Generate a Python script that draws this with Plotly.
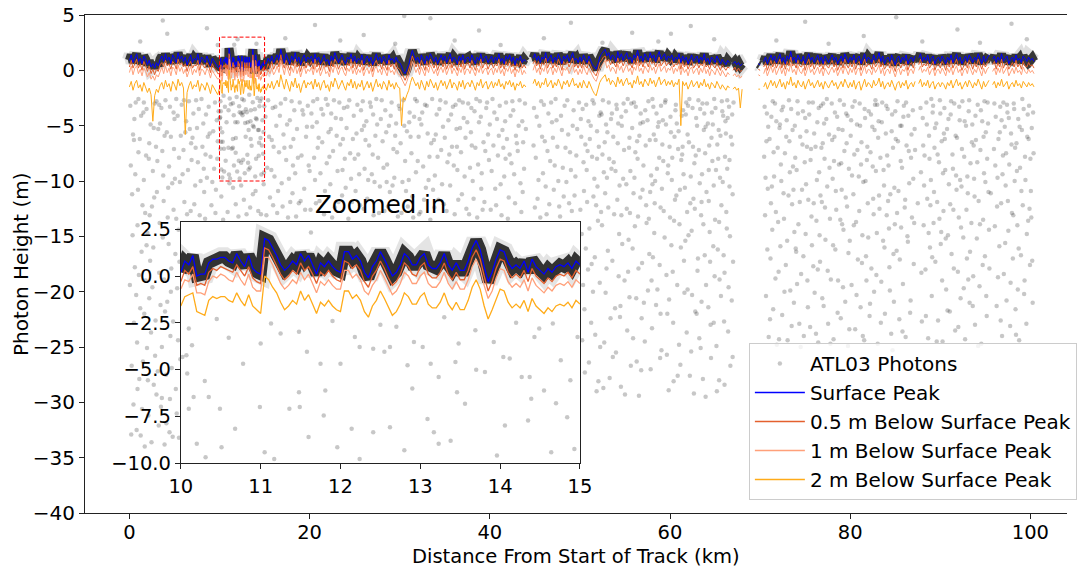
import numpy as np
import plotly.graph_objects as go

N = None
# ---------------- main track, sampled every 0.2 km (10-15 km comes from the zoomed segment) ----------------
STEP_KM = 0.2
surface_peak_m = [
    0.9,1.4,0.7,1.2,1.5,0.8,1.1,0.6,1.3,1.0, 0.5,0.9,0.3,0.6,0.2,0.7,0.4,1.0,1.3,0.8, 1.5,0.9,1.2,0.6,1.4,1.1,0.7,1.6,1.0,1.3, 0.8,1.2,0.5,1.0,1.4,0.7,1.1,0.9,1.5,0.6, 1.2,1.0,0.7,1.3,0.9,0.4,1.1,0.8,0.6,0.3,
    N,N,N,N,N,N,N,N,N,N, N,N,N,N,N,N,N,N,N,N, N,N,N,N,N,N, 0.6,1.1,0.8,1.3,0.7,1.0,1.4,0.9,1.9,1.2, 0.7,1.5,1.0,0.6,1.3,0.9,1.6,0.8,1.2,0.5, 1.1,1.4,0.8,1.2,
    1.0,1.3,0.7,1.5,0.9,1.2,0.6,1.1,1.4,0.8, 1.0,0.5,1.3,0.9,1.6,1.2,0.7,1.1,1.4,0.9, 0.6,1.2,1.0,1.5,0.8,1.3,0.7,1.1,0.9,1.4, 0.6,1.0,1.3,0.8,1.2,0.5,1.1,1.5,0.9,1.2, 0.7,1.3,1.0,0.6,1.4,0.9,1.1,0.7,1.2,0.8,
    0.7,0.4,-0.1,-0.3,0.1,0.5,1.2,1.8,1.3,0.9, 1.2,0.7,1.4,1.0,0.6,1.3,0.9,1.5,1.1,0.8, 1.2,0.6,1.0,1.4,0.9,1.3,0.7,1.1,1.5,0.8, 1.2,1.0,0.6,1.3,0.9,1.4,0.7,1.1,1.2,0.8, 1.4,1.0,0.6,1.2,0.9,1.5,0.8,1.1,1.3,0.7,
    1.0,1.3,0.7,1.2,0.9,1.5,0.8,1.1,0.6,1.3, 1.0,1.4,0.8,1.2,0.5,1.1,0.9,1.3,0.7,1.0, 0.8,N,N,N,1.1,1.5,0.9,1.3,0.7,1.2, 1.0,1.6,0.8,1.1,1.4,0.7,1.2,0.9,1.5,1.1, 0.6,1.3,1.0,1.4,0.8,1.2,1.6,0.9,1.1,0.7,
    1.2,0.8,1.4,1.0,0.7,1.3,0.9,0.5,0.3,0.1, 0.6,1.2,1.5,1.7,1.9,1.3,1.6,1.0,1.4,1.2, 0.8,1.7,1.1,1.5,0.9,1.3,1.6,1.0,1.2,0.7, 1.4,1.1,1.8,1.0,1.3,0.8,1.5,1.2,0.9,1.6, 1.1,1.4,0.8,1.3,1.7,1.0,1.2,1.5,0.9,1.3,
    1.1,1.4,0.8,1.2,1.0,1.5,0.7,1.3,0.9,1.2, 0.6,1.1,1.4,0.8,1.0,1.3,0.7,1.2,0.9,1.5, 0.8,1.1,0.6,1.2,1.0,0.7,1.3,0.9,0.6,1.0, 0.8,0.5,0.9,0.7,N,0.6,0.8,0.5,0.7,0.4, 0.6,N,N,N,N,N,N,N,N,0.6,
    0.5,N,0.8,1.2,0.6,1.0,1.4,0.9,1.3,0.7, 1.1,1.5,0.8,1.2,0.6,1.3,1.0,1.7,0.9,1.2, 0.7,1.4,1.0,0.8,1.3,0.6,1.1,1.5,0.9,1.2, 0.7,1.0,1.4,0.8,1.2,0.6,1.3,1.0,0.7,1.1, 1.4,0.9,1.2,0.6,1.0,1.3,0.8,1.5,1.1,0.7,
    1.2,0.9,1.4,0.7,1.1,1.3,0.6,1.0,1.5,0.8, 1.2,1.0,0.7,1.4,0.9,1.1,1.6,0.8,1.3,0.6, 1.0,1.2,0.8,1.4,0.9,0.5,1.1,1.3,0.7,1.2, 0.9,1.4,0.6,1.0,1.2,0.8,1.3,N,1.1,1.5, 0.8,1.2,0.9,1.4,0.7,1.1,1.3,0.6,1.0,1.2,
    0.8,1.3,1.0,0.6,1.2,0.9,1.4,0.7,1.1,1.5, 0.9,1.2,0.6,1.0,1.3,0.8,1.4,1.1,0.7,1.2, 0.9,1.5,1.0,0.6,1.3,0.8,1.1,1.4,N,1.0, 1.3,0.7,1.2,0.9,1.5,0.8,1.1,1.3,0.6,1.0, 1.2,0.8,1.4,0.9,1.1,0.7,1.3,1.0,0.8,1.2,
    0.9,1.1,0.8,
]
below_half_m = [
    0.3,0.9,0.2,0.6,1.0,0.2,0.6,0.0,0.8,0.4, -0.1,0.4,-0.3,0.1,-0.4,0.1,-0.1,0.5,0.7,0.3, 0.9,0.4,0.6,0.1,0.8,0.6,0.1,1.0,0.5,0.7, 0.3,0.6,-0.1,0.5,0.8,0.2,0.5,0.4,0.9,0.0, 0.7,0.4,0.2,0.7,0.4,-0.2,0.6,0.2,0.1,-0.3,
    N,N,N,N,N,N,N,N,N,N, N,N,N,N,N,N,N,N,N,N, N,N,N,N,N,N, 0.0,0.6,0.2,0.8,0.1,0.5,0.9,0.3,1.4,0.6, 0.2,0.9,0.5,0.0,0.7,0.4,1.0,0.3,0.6,-0.1, 0.6,0.8,0.2,0.7,
    0.4,0.8,0.1,1.0,0.3,0.7,0.0,0.6,0.8,0.3, 0.5,-0.1,0.8,0.3,1.0,0.7,0.1,0.5,0.9,0.4, 0.0,0.7,0.4,1.0,0.2,0.8,0.1,0.6,0.3,0.9, 0.0,0.5,0.7,0.3,0.6,-0.1,0.6,0.9,0.4,0.6, 0.1,0.8,0.4,0.0,0.9,0.3,0.6,0.1,0.7,0.2,
    0.1,-0.2,-0.6,-0.9,-0.5,0.0,0.6,1.3,0.8,0.3, 0.7,0.1,0.9,0.4,0.0,0.8,0.3,1.0,0.6,0.2, 0.7,0.0,0.5,0.9,0.3,0.8,0.1,0.6,1.0,0.2, 0.7,0.4,0.0,0.8,0.3,0.9,0.1,0.6,0.7,0.2, 0.9,0.4,0.0,0.6,0.4,1.0,0.2,0.6,0.7,0.1,
    0.5,0.7,0.2,0.6,0.4,1.0,0.2,0.6,0.1,0.8, 0.4,0.9,0.3,0.6,0.0,0.6,0.3,0.8,0.2,0.5, 0.2,N,N,N,0.6,0.9,0.4,0.8,0.1,0.7, 0.5,1.1,0.2,0.6,0.8,0.2,0.7,0.3,1.0,0.6, 0.0,0.8,0.5,0.8,0.3,0.7,1.1,0.3,0.6,0.2,
    0.7,0.2,0.9,0.4,0.2,0.8,0.3,0.0,-0.3,-0.5, 0.0,0.7,0.9,1.2,1.3,0.8,1.0,0.5,0.9,0.6, 0.3,1.1,0.6,0.9,0.4,0.8,1.0,0.5,0.6,0.2, 0.9,0.5,1.3,0.4,0.8,0.3,0.9,0.7,0.3,1.1, 0.6,0.8,0.3,0.7,1.2,0.4,0.7,0.9,0.4,0.7,
    0.6,0.9,0.3,0.6,0.5,1.0,0.1,0.8,0.3,0.7, 0.1,0.5,0.9,0.2,0.5,0.7,0.2,0.6,0.4,0.9, 0.3,0.5,0.1,0.7,0.4,0.2,0.7,0.4,0.0,0.5, 0.2,0.0,0.3,0.2,N,0.0,0.3,-0.1,0.2,-0.1, 0.0,N,N,N,N,N,N,N,N,0.1,
    0.0,N,0.3,0.7,0.0,0.5,0.9,0.3,0.8,0.2, 0.6,1.0,0.2,0.7,0.1,0.8,0.4,1.2,0.4,0.6, 0.2,0.9,0.4,0.3,0.8,0.0,0.6,1.0,0.3,0.7, 0.1,0.5,0.9,0.3,0.6,0.1,0.8,0.4,0.2,0.6, 0.9,0.3,0.7,0.0,0.5,0.8,0.2,1.0,0.5,0.2,
    0.7,0.3,0.9,0.1,0.6,0.8,0.0,0.5,1.0,0.3, 0.6,0.5,0.1,0.9,0.3,0.6,1.0,0.3,0.7,0.1, 0.4,0.7,0.2,0.9,0.4,-0.1,0.6,0.7,0.2,0.6, 0.4,0.8,0.0,0.5,0.7,0.2,0.8,N,0.5,1.0, 0.3,0.6,0.4,0.8,0.2,0.5,0.8,0.0,0.5,0.6,
    0.2,0.8,0.5,0.0,0.7,0.3,0.9,0.2,0.6,1.0, 0.4,0.6,0.0,0.5,0.8,0.2,0.9,0.6,0.1,0.7, 0.3,1.0,0.5,0.1,0.7,0.3,0.6,0.9,N,0.5, 0.8,0.1,0.7,0.3,1.0,0.2,0.6,0.7,0.1,0.4, 0.7,0.3,0.9,0.3,0.6,0.1,0.8,0.4,0.3,0.7,
    0.4,0.5,0.2,
]
below_one_m = [
    -0.2,0.4,-0.4,0.2,0.4,-0.3,0.1,-0.5,0.2,-0.1, -0.6,-0.2,-0.8,-0.5,-0.9,-0.4,-0.6,-0.1,0.3,-0.3, 0.4,-0.2,0.2,-0.5,0.3,0.1,-0.4,0.5,-0.1,0.3, -0.3,0.1,-0.6,-0.1,0.4,-0.4,0.1,-0.2,0.4,-0.5, 0.1,0.0,-0.4,0.2,-0.1,-0.7,0.0,-0.3,-0.5,-0.8,
    N,N,N,N,N,N,N,N,N,N, N,N,N,N,N,N,N,N,N,N, N,N,N,N,N,N, -0.5,0.1,-0.3,0.2,-0.4,-0.1,0.4,-0.2,0.9,0.1, -0.4,0.5,-0.1,-0.5,0.3,-0.2,0.5,-0.3,0.2,-0.6, 0.0,0.4,-0.3,0.1,
    -0.1,0.3,-0.4,0.4,-0.2,0.2,-0.5,0.0,0.4,-0.3, -0.1,-0.6,0.3,-0.2,0.5,0.1,-0.4,0.1,0.3,-0.2, -0.5,0.2,-0.1,0.4,-0.3,0.2,-0.4,0.1,-0.2,0.3, -0.5,0.0,0.2,-0.3,0.2,-0.6,0.1,0.4,-0.2,0.1, -0.4,0.3,-0.1,-0.5,0.3,-0.2,0.0,-0.4,0.2,-0.3,
    -0.4,-0.7,-1.1,-1.4,-1.0,-0.5,0.1,0.8,0.3,-0.2, 0.2,-0.4,0.3,-0.1,-0.5,0.3,-0.2,0.5,0.0,-0.3, 0.1,-0.5,0.0,0.3,-0.2,0.3,-0.4,0.0,0.5,-0.3, 0.2,-0.1,-0.5,0.2,-0.2,0.4,-0.4,0.1,0.1,-0.3, 0.3,-0.1,-0.5,0.2,-0.2,0.4,-0.3,0.1,0.2,-0.4,
    0.0,0.2,-0.4,0.2,-0.2,0.4,-0.3,0.1,-0.5,0.2, -0.1,0.4,-0.3,0.1,-0.6,0.1,-0.2,0.3,-0.4,0.0, -0.3,N,N,N,0.0,0.5,-0.2,0.2,-0.4,0.2, -0.1,0.5,-0.3,0.1,0.3,-0.4,0.2,-0.2,0.4,0.0, -0.5,0.2,0.0,0.3,-0.3,0.1,0.5,-0.2,0.1,-0.4,
    0.1,-0.3,0.4,-0.1,-0.4,0.2,-0.2,-0.5,-0.8,-1.0, -0.5,0.1,0.4,0.6,0.9,0.2,0.5,-0.1,0.3,0.1, -0.3,0.6,0.0,0.4,-0.2,0.2,0.5,-0.1,0.2,-0.4, 0.3,0.0,0.7,-0.1,0.2,-0.3,0.4,0.1,-0.2,0.5, 0.0,0.3,-0.3,0.2,0.6,-0.1,0.1,0.4,-0.2,0.2,
    0.0,0.4,-0.3,0.2,-0.1,0.4,-0.4,0.3,-0.2,0.1, -0.5,0.1,0.3,-0.3,0.0,0.2,-0.4,0.2,-0.2,0.4, -0.3,0.1,-0.5,0.1,-0.1,-0.4,0.2,-0.2,-0.5,0.0, -0.3,-0.6,-0.2,-0.4,N,-0.5,-0.3,-0.6,-0.4,-0.7, -0.5,N,N,N,N,N,N,N,N,-0.4,
    -0.5,N,-0.3,0.2,-0.5,-0.1,0.4,-0.2,0.3,-0.4, 0.1,0.4,-0.3,0.2,-0.5,0.2,-0.1,0.6,-0.2,0.1, -0.4,0.4,-0.1,-0.3,0.2,-0.5,0.0,0.5,-0.2,0.1, -0.4,-0.1,0.3,-0.3,0.2,-0.5,0.2,-0.1,-0.4,0.0, 0.3,-0.2,0.2,-0.5,-0.1,0.3,-0.3,0.4,0.0,-0.4,
    0.2,-0.2,0.3,-0.4,0.1,0.2,-0.5,0.0,0.4,-0.3, 0.1,0.0,-0.4,0.3,-0.2,0.1,0.5,-0.3,0.2,-0.5, 0.0,0.1,-0.3,0.4,-0.2,-0.6,0.0,0.2,-0.4,0.1, -0.1,0.3,-0.5,0.0,0.1,-0.3,0.3,N,0.0,0.4, -0.2,0.1,-0.1,0.3,-0.4,0.0,0.2,-0.5,0.0,0.1,
    -0.3,0.2,-0.1,-0.5,0.2,-0.2,0.3,-0.4,0.1,0.4, -0.2,0.1,-0.5,0.0,0.2,-0.3,0.4,0.0,-0.4,0.1, -0.2,0.4,0.0,-0.5,0.2,-0.3,0.1,0.3,N,-0.1, 0.2,-0.4,0.2,-0.2,0.4,-0.3,0.0,0.3,-0.5,-0.1, 0.2,-0.3,0.3,-0.2,0.0,-0.4,0.3,-0.1,-0.3,0.1,
    -0.2,0.0,-0.3,
]
below_two_m = [
    -1.5,-1.0,-1.8,-1.2,-0.9,-1.6,-1.3,-1.9,-1.1,-1.5, -2.0,-1.6,-2.2,-4.6,-2.3,-1.7,-2.0,-1.4,-1.1,-1.7, -0.9,-1.5,-1.2,-1.9,-1.0,-1.3,-1.8,-0.8,-1.4,-1.1, -1.6,-5.8,-2.0,-1.4,-1.0,-1.7,-1.3,-1.5,-0.9,-1.9, -1.2,-1.4,-1.8,-1.1,-1.5,-2.1,-1.3,-1.6,-1.9,-2.2,
    N,N,N,N,N,N,N,N,N,N, N,N,N,N,N,N,N,N,N,N, N,N,N,N,N,N, -1.8,-1.2,-1.6,-1.0,-1.7,-1.3,-0.9,-1.5,-0.4,-1.1, -1.7,-0.8,-1.3,-1.9,-1.0,-1.5,-0.7,-1.6,-1.2,-2.0, -1.3,-0.9,-1.6,-1.1,
    -1.3,-1.0,-1.7,-0.8,-1.5,-1.1,-1.8,-1.2,-0.9,-1.6, -1.3,-1.9,-1.0,-1.5,-0.7,-1.1,-1.7,-1.3,-0.9,-1.4, -1.8,-1.1,-1.4,-0.8,-1.6,-1.0,-1.7,-1.2,-1.5,-0.9, -1.8,-1.4,-1.0,-1.6,-1.1,-1.9,-1.3,-0.8,-1.5,-1.2, -1.7,-1.0,-1.3,-1.8,-0.9,-1.5,-1.2,-1.7,-1.1,-1.5,
    -1.6,-5.0,-2.4,-2.7,-2.2,-1.8,-1.1,-0.6,-1.0,-1.4, -1.1,-1.7,-0.9,-1.3,-1.8,-1.0,-1.5,-0.8,-1.2,-1.6, -1.1,-1.8,-1.3,-0.9,-1.4,-1.0,-1.7,-1.2,-0.8,-1.6, -1.1,-1.3,-1.8,-1.0,-1.5,-0.9,-1.7,-1.2,-1.1,-1.5, -0.9,-1.3,-1.8,-1.1,-1.4,-0.8,-1.6,-1.2,-1.0,-1.7,
    -1.3,-1.0,-1.6,-1.1,-1.4,-0.8,-1.5,-1.2,-1.7,-1.0, -1.3,-0.9,-1.5,-1.1,-1.8,-1.2,-1.4,-1.0,-1.6,-1.3, -1.5,N,N,N,-1.2,-0.8,-1.4,-1.0,-1.6,-1.1, -1.3,-0.7,-1.5,-1.2,-0.9,-1.6,-1.1,-1.4,-0.8,-1.2, -1.7,-1.0,-1.3,-0.9,-1.5,-1.1,-0.7,-1.4,-1.2,-1.6,
    -1.1,-1.6,-0.9,-1.3,-1.6,-1.0,-1.5,-1.8,-2.1,-2.3, -1.7,-1.1,-0.8,-0.6,-0.4,-1.0,-0.7,-1.3,-0.9,-1.1, -1.5,-0.6,-1.2,-0.8,-1.4,-1.0,-0.7,-1.3,-1.1,-1.6, -0.9,-1.2,-0.5,-1.3,-1.0,-1.5,-0.8,-1.1,-1.4,-0.7, -1.2,-0.9,-1.5,-1.0,-0.6,-1.3,-1.1,-0.8,-1.4,-1.0,
    -1.3,-0.9,-1.5,-1.1,-1.3,-0.8,-5.0,-1.0,-1.4,-1.1, -1.7,-1.2,-0.9,-1.5,-1.3,-1.0,-1.6,-1.1,-1.4,-0.8, -1.5,-1.2,-1.7,-1.1,-1.3,-1.6,-1.0,-1.4,-1.7,-1.3, -1.5,-1.8,-1.4,-1.6,N,-1.7,-1.5,-1.8,-1.6,-3.4, -1.7,N,N,N,N,N,N,N,N,-1.7,
    -1.7,N,-1.5,-1.1,-1.7,-1.3,-0.9,-1.4,-1.0,-1.6, -1.2,-0.8,-1.5,-1.1,-1.7,-1.0,-1.3,-0.6,-1.4,-1.1, -1.6,-0.9,-1.3,-1.5,-1.0,-1.7,-1.2,-0.8,-1.4,-1.1, -1.6,-1.3,-0.9,-1.5,-1.1,-1.7,-1.0,-1.3,-1.6,-1.2, -0.9,-1.4,-1.1,-1.7,-1.3,-1.0,-1.5,-0.8,-1.2,-1.6,
    -1.1,-1.5,-0.9,-1.7,-1.2,-1.0,-1.8,-1.3,-0.8,-1.5, -1.1,-1.3,-1.6,-0.9,-1.4,-1.2,-0.7,-1.5,-1.0,-1.7, -1.3,-1.1,-1.5,-0.9,-1.4,-1.8,-1.2,-1.0,-1.6,-1.1, -1.4,-0.9,-1.7,-1.3,-1.1,-1.5,-1.0,N,-1.2,-0.8, -1.5,-1.1,-1.4,-0.9,-1.6,-1.2,-1.0,-1.7,-1.3,-1.1,
    -1.5,-1.1,-1.3,-1.7,-1.1,-1.4,-0.9,-1.6,-1.2,-0.8, -1.4,-1.1,-1.7,-1.3,-1.0,-1.5,-0.9,-1.2,-1.6,-1.1, -1.4,-0.8,-1.3,-1.7,-1.0,-1.5,-1.2,-0.9,N,-1.3, -1.0,-1.6,-1.1,-1.4,-0.8,-1.5,-1.2,-1.0,-1.7,-1.3, -1.1,-1.5,-0.9,-1.4,-1.2,-1.6,-1.0,-1.3,-1.5,-1.1,
    -1.4,-1.2,-1.5,
]

# ---------------- zoomed segment 10-15 km, sampled every 0.05 km ----------------
INSET_START_KM = 10.0
INSET_STEP_KM = 0.05
inset_surface_m = [
    0.2,0.8,0.6,1.1,0.0,0.1,0.1,0.7,0.9,0.9, 1.0,1.0,0.8,0.7,1.2,0.8,0.5,1.1,0.4,0.2,
    0.1,2.0,1.9,1.5,1.1,0.6,0.3,0.5,0.8,0.6, 1.2,0.8,1.1,0.6,0.1,0.7,0.5,0.8,0.5,0.3,
    0.2,1.3,1.3,0.9,1.1,0.8,0.2,-0.1,0.5,0.8, 1.3,0.9,0.4,0.0,0.2,0.6,1.2,1.0,0.6,0.6,
    1.0,1.2,0.6,0.4,0.4,0.7,1.2,0.6,0.3,0.7, 0.3,0.3,0.8,1.5,1.9,1.4,0.5,-0.3,0.2,0.9,
    1.4,1.3,0.7,0.4,0.6,0.4,0.8,0.2,0.9,0.5, 0.3,0.1,0.4,0.2,0.5,0.6,0.5,0.7,0.4,0.8,
    0.6,
]
inset_half_m = [
    -0.3,0.3,0.1,0.5,-0.5,-0.4,-0.5,0.2,0.4,0.3, 0.5,0.4,0.3,0.2,0.6,0.3,0.0,0.5,-0.1,-0.3,
    -0.4,1.5,1.4,1.0,0.5,0.1,-0.2,0.0,0.3,0.1, 0.7,0.3,0.5,0.1,-0.4,0.2,0.0,0.3,0.0,-0.2,
    -0.3,0.8,0.7,0.4,0.6,0.3,-0.3,-0.6,0.0,0.3, 0.8,0.4,-0.1,-0.5,-0.3,0.1,0.7,0.5,0.1,0.0,
    0.5,0.7,0.1,-0.1,-0.1,0.2,0.7,0.1,-0.2,0.2, -0.2,-0.2,0.3,1.0,1.4,0.9,0.0,-0.8,-0.3,0.4,
    0.9,0.8,0.2,-0.1,0.1,-0.1,0.3,-0.3,0.4,0.0, -0.2,-0.4,-0.1,-0.3,0.0,0.1,0.0,0.2,-0.1,0.3,
    0.1,
]
inset_one_m = [
    -0.7,-0.2,-0.3,0.1,-0.9,-0.9,-1.0,-0.3,0.0,-0.1, 0.1,0.0,-0.2,-0.3,0.2,-0.2,-0.5,0.1,-0.6,-0.8,
    -0.8,1.0,1.0,0.6,0.1,-0.4,-0.7,-0.5,-0.2,-0.4, 0.2,-0.2,0.1,-0.4,-0.9,-0.3,-0.5,-0.2,-0.5,-0.7,
    -0.7,0.3,0.3,-0.1,0.1,-0.2,-0.8,-1.0,-0.5,-0.2, 0.3,-0.1,-0.6,-1.0,-0.8,-0.4,0.2,0.0,-0.4,-0.4,
    0.0,0.2,-0.4,-0.6,-0.6,-0.3,0.2,-0.4,-0.7,-0.3, -0.7,-0.7,-0.2,0.5,0.9,0.4,-0.5,-1.2,-0.8,-0.1,
    0.4,0.3,-0.3,-0.6,-0.4,-0.6,-0.2,-0.8,-0.1,-0.5, -0.7,-0.9,-0.6,-0.8,-0.5,-0.4,-0.5,-0.3,-0.6,-0.2,
    -0.4,
]
inset_two_m = [
    -1.6,-1.1,-1.0,-0.9,-1.9,-2.0,-2.1,-1.3,-1.1,-1.2, -1.1,-1.1,-1.3,-1.4,-0.9,-1.3,-1.6,-1.0,-1.6,-1.8,
    -2.0,0.0,-0.2,-0.6,-0.9,-1.4,-1.8,-1.6,-1.3,-1.5, -0.8,-1.3,-1.0,-1.5,-2.0,-1.4,-1.6,-1.3,-1.6,-1.8,
    -1.9,-0.8,-0.8,-1.2,-1.0,-1.3,-1.9,-2.2,-1.6,-1.3, -0.8,-1.2,-1.7,-2.1,-1.9,-1.5,-0.9,-1.1,-1.5,-1.5,
    -1.1,-0.9,-1.5,-1.7,-1.7,-1.4,-0.9,-1.5,-1.8,-1.4, -1.8,-1.8,-1.3,-0.6,-0.2,-0.7,-1.6,-2.3,-1.8,-1.2,
    -0.7,-0.8,-1.4,-1.7,-1.5,-1.7,-1.3,-1.9,-1.2,-1.6, -1.8,-2.0,-1.7,-1.9,-1.6,-1.5,-1.6,-1.4,-1.7,-1.3,
    -1.5,
]

# ---------------- background photons (km, height m) ----------------
photons_start = [
    (0.1,-3.2),(0.4,-5.8),(0.7,-2.9),(1.0,-7.4),(1.3,-4.1),(1.6,-9.9),(1.9,-3.5),(2.2,-6.6),(2.5,-12.3),(2.8,-3.0),
    (3.1,-8.2),(3.4,-4.8),(3.7,-15.1),(4.0,-2.7),(4.3,-10.6),(4.6,-6.0),(4.9,-3.8),(5.2,-13.4),(5.5,-7.9),(0.3,-11.2),
    (0.6,-17.8),(0.9,-14.0),(1.2,-21.5),(1.5,-26.3),(1.8,-19.0),(2.1,-31.2),(2.4,-23.7),(2.7,-28.4),(3.0,-29.3),(3.3,-18.3),
    (3.6,-25.0),(3.9,-33.8),(4.2,-20.9),(4.5,-29.7),(4.8,-33.1),(5.1,-16.6),(5.4,-24.4),(0.2,-32.9),(0.8,-32.5),(1.4,-30.6),
    (2.0,-14.7),(2.6,-9.1),(3.2,-5.3),(3.8,-11.8),(4.4,-8.7),(5.0,-4.4),(5.6,-10.1),(1.1,-27.9),(1.7,-34.0),(2.3,-17.2),
    (2.9,-22.6),(3.5,-30.4),(4.1,-31.9),(4.7,-26.9),(5.3,-19.7),(0.5,-22.8),(1.0,-2.6),(3.0,-2.8),(4.5,-3.3),(5.7,-5.9),
    (0.15,-8.6),(0.35,-14.9),(0.55,-4.4),(0.75,-20.3),(0.95,-10.8),(1.15,-6.2),(1.35,-16.4),(1.55,-3.8),(1.75,-12.9),(1.95,-25.1),
    (2.15,-8.0),(2.35,-4.9),(2.55,-19.6),(2.75,-11.5),(2.95,-6.9),(3.15,-27.2),(3.35,-13.8),(3.55,-3.4),(3.75,-9.5),(3.95,-21.8),
    (4.15,-5.6),(4.35,-15.7),(4.55,-24.0),(4.75,-10.2),(4.95,-7.1),(5.15,-28.8),(5.35,-4.1),(5.55,-17.3),(0.25,-26.7),(0.45,-30.2),
    (0.65,-9.4),(0.85,-24.6),(1.05,-18.5),(1.25,-33.0),(1.45,-12.2),(1.65,-22.0),(1.85,-7.7),(2.05,-28.0),(2.25,-13.1),(2.45,-33.6),
    (2.65,-16.0),(2.85,-25.8),(3.05,-11.0),(3.25,-32.1),(3.45,-21.2),(3.65,-7.3),(3.85,-18.9),(4.05,-27.5),(4.25,-13.3),(4.45,-32.7),
    (4.65,-17.9),(4.85,-22.7),(5.05,-9.8),(5.25,-31.0),(5.45,-14.4),(5.65,-26.1),(0.05,-19.4),(1.9,-15.8),(3.3,-3.1),(4.9,-12.6),
    (0.5,-6.3),(1.6,-2.9),(2.7,-5.2),(3.9,-5.9),(5.2,-2.6),(0.9,-28.8),(2.2,-20.6),(3.6,-29.6),(4.6,-20.0),(5.5,-33.2),
]
photons_left = [
    (5.8,-3.1),(6.0,-7.2),(6.1,-11.9),(6.3,-4.6),(6.5,-9.0),(6.6,-2.8),(6.8,-12.7),(7.0,-6.1),(7.1,-3.9),(7.3,-10.4),
    (7.5,-5.2),(7.6,-8.3),(7.8,-13.1),(8.0,-2.6),(8.1,-6.9),(8.3,-11.0),(8.5,-4.0),(8.6,-9.7),(8.8,-3.3),(9.0,-7.8),
    (9.1,-12.2),(9.3,-5.5),(9.5,-2.9),(9.6,-10.8),(9.8,-6.4),(9.9,-3.7),(6.2,-5.6),(7.4,-2.7),(8.7,-6.0),(9.4,-8.9),
    (5.9,-9.4),(6.4,-13.0),(6.7,-5.3),(6.9,-8.1),(7.2,-12.1),(7.7,-3.5),(7.9,-10.0),(8.2,-4.8),(8.4,-13.4),(8.9,-5.7),
    (9.2,-10.1),(9.7,-4.5),(6.05,-2.7),(7.35,-7.0),(8.45,-7.6),(9.55,-12.9),(6.85,-6.6),(8.25,-8.9),(9.75,-8.0),
    (10.2,-11.4),(10.9,-12.8),(11.5,-10.6),(12.1,-13.2),(12.7,-11.7),(13.4,-12.4),(14.0,-10.9),(14.6,-13.0),
    (10.4,-13.5),(11.1,-10.2),(11.8,-12.1),(12.4,-10.4),(13.0,-13.0),(13.7,-11.2),(14.3,-12.7),(14.9,-10.3),
    (15.1,-4.2),(15.3,-8.8),(15.4,-2.7),(15.6,-11.5),(15.8,-6.3),(15.9,-3.4),(16.1,-9.6),(16.3,-5.0),(16.4,-12.9),(16.6,-7.4),
    (16.8,-3.0),(16.9,-10.2),(17.1,-5.8),(17.3,-2.6),(17.4,-8.1),(17.6,-13.3),(17.8,-4.5),(17.9,-6.9),(18.1,-11.1),(18.3,-3.6),
    (18.4,-9.3),(18.6,-5.3),(18.8,-12.0),(18.9,-2.9),(19.1,-7.7),(19.3,-4.0),(19.4,-10.7),(19.6,-6.0),(19.8,-3.2),(19.9,-8.6),
    (20.1,-12.6),(20.3,-5.1),(20.4,-2.8),(20.6,-9.9),(20.8,-4.7),(20.9,-7.0),(21.1,-11.8),(21.3,-3.5),(21.4,-6.5),(21.6,-13.0),
    (21.8,-2.6),(21.9,-8.4),(22.1,-5.6),(22.3,-10.3),(22.4,-3.9),(22.6,-7.3),(22.8,-12.4),(22.9,-4.3),(23.1,-9.1),(23.3,-2.9),
    (23.4,-6.7),(23.6,-11.3),(23.8,-3.4),(23.9,-8.0),(24.1,-5.2),(24.3,-13.4),(24.4,-2.7),(24.6,-9.8),(24.8,-6.2),(24.9,-4.1),
    (25.1,-10.9),(25.3,-3.1),(25.4,-7.6),(25.6,-12.2),(25.8,-5.4),(25.9,-2.8),(26.1,-8.9),(26.3,-4.6),(26.4,-11.6),(26.6,-6.8),
    (26.8,-3.3),(26.9,-9.4),(27.1,-13.1),(27.3,-5.9),(27.4,-2.6),(27.6,-7.9),(27.8,-10.5),(27.9,-4.4),(28.1,-6.4),(28.3,-12.7),
    (28.4,-3.6),(28.6,-8.5),(28.8,-5.0),(28.9,-11.0),(29.1,-2.9),(29.3,-7.1),(29.4,-9.7),(29.6,-4.8),(29.8,-13.2),(29.9,-3.2),
    (30.1,-6.6),(30.3,-10.1),(30.4,-2.7),(30.6,-8.2),(30.8,-5.5),(30.9,-12.3),(31.1,-3.8),(31.3,-7.5),(31.4,-11.4),(31.6,-4.2),
    (31.8,-9.2),(31.9,-2.8),(32.1,-6.0),(32.3,-12.8),(32.4,-4.9),(32.6,-8.7),(32.8,-3.1),(32.9,-10.6),(33.1,-5.7),(33.3,-7.8),
    (33.4,-13.5),(33.6,-2.6),(33.8,-6.3),(33.9,-9.5),(34.1,-4.0),(34.3,-11.7),(34.4,-3.5),(34.6,-7.2),(34.8,-5.1),(34.9,-12.1),
    (35.1,-2.9),(35.3,-8.3),(35.4,-4.5),(35.6,-10.4),(35.8,-6.9),(35.9,-3.3),(36.1,-13.0),(36.3,-5.3),(36.4,-9.0),(36.6,-2.7),
    (36.8,-7.4),(36.9,-11.2),(37.1,-4.3),(37.3,-6.1),(37.4,-12.5),(37.6,-3.0),(37.8,-8.8),(37.9,-5.6),(38.1,-10.0),(38.3,-3.7),
    (38.4,-7.0),(38.6,-13.3),(38.8,-4.7),(38.9,-2.8),(39.1,-9.3),(39.3,-6.5),(39.4,-11.9),(39.6,-3.4),(39.8,-5.8),(39.9,-8.1),
    (40.1,-12.6),(40.3,-2.6),(40.4,-6.8),(40.6,-10.7),(40.8,-4.4),(40.9,-7.7),(41.1,-3.2),(41.3,-13.1),(41.4,-5.4),(41.6,-9.6),
    (41.8,-2.9),(41.9,-6.2),(42.1,-11.5),(42.3,-4.1),(42.4,-8.4),(42.6,-3.6),(42.8,-12.0),(42.9,-5.9),(43.1,-7.3),(43.3,-2.7),
    (43.4,-10.2),(43.6,-4.6),(43.8,-8.9),(43.9,-3.0),(16.0,-6.9),(19.0,-11.8),(22.0,-3.1),(25.0,-8.0),(28.0,-2.7),(31.0,-9.9),
    (34.0,-5.8),(37.0,-2.9),(40.0,-4.9),(43.0,-6.6),(17.5,-4.9),(20.5,-7.9),(23.5,-4.4),(26.5,-9.9),(29.5,-5.9),(32.5,-3.8),
    (35.5,-7.6),(38.5,-2.6),(41.5,-7.0),(44.0,-5.3),
    (15.2,-13.1),(15.5,-6.0),(15.75,-9.0),(16.2,-3.3),(16.5,-10.9),(16.7,-4.1),(17.0,-12.3),(17.2,-7.0),(17.7,-9.8),(18.0,-2.8),
    (18.2,-6.2),(18.5,-13.2),(18.7,-7.9),(19.2,-3.6),(19.5,-12.6),(19.7,-5.1),(20.0,-9.1),(20.2,-3.9),(20.7,-12.0),(21.0,-6.1),
    (21.2,-9.3),(21.5,-4.0),(21.7,-10.9),(22.2,-7.8),(22.5,-13.3),(22.7,-2.7),(23.0,-5.9),(23.2,-11.9),(23.7,-6.2),(24.0,-10.6),
    (24.2,-3.3),(24.5,-7.5),(24.7,-11.9),(25.2,-5.7),(25.5,-9.4),(25.7,-3.6),(26.0,-12.5),(26.2,-6.3),(26.7,-2.9),(27.0,-7.6),
    (27.2,-10.1),(27.5,-4.9),(27.7,-12.9),(28.2,-8.8),(28.5,-5.6),(28.7,-12.3),(29.0,-4.1),(29.2,-10.4),(29.7,-7.4),(30.0,-3.5),
    (30.2,-12.9),(30.5,-5.0),(30.7,-10.9),(31.2,-6.0),(31.5,-13.3),(31.7,-2.6),(32.0,-8.2),(32.2,-4.4),(32.7,-11.7),(33.0,-3.2),
    (33.2,-9.9),(33.5,-6.6),(33.7,-10.8),(34.2,-7.8),(34.5,-2.7),(34.7,-10.3),(35.0,-6.1),(35.2,-12.7),(35.7,-4.0),(36.0,-8.6),
    (36.2,-3.1),(36.5,-11.7),(36.7,-5.2),(37.2,-9.6),(37.5,-4.7),(37.7,-13.0),(38.0,-6.8),(38.2,-11.6),(38.7,-8.5),(39.0,-4.2),
    (39.2,-12.6),(39.5,-7.3),(39.7,-2.9),(40.2,-9.1),(40.5,-3.8),(40.7,-12.2),(41.0,-5.9),(41.2,-10.3),(41.7,-4.6),(42.0,-13.4),
    (42.2,-7.6),(42.5,-2.8),(42.7,-9.4),(43.2,-5.0),(43.5,-12.8),(43.7,-6.5),(15.95,-12.2),(18.15,-8.6),(20.85,-2.6),(23.65,-9.0),
    (26.05,-5.0),(28.55,-10.1),(31.05,-4.7),(33.85,-12.4),(36.35,-6.9),(39.05,-10.7),(41.75,-8.0),(43.65,-11.0),(17.85,-11.9),(22.35,-5.3),
    (27.05,-4.0),(32.15,-13.0),(37.95,-3.4),
]
photons_middle = [
    (44.9,-3.4),(45.1,-7.9),(45.3,-11.6),(45.5,-5.0),(45.7,-2.8),(45.9,-9.3),(46.1,-6.4),(46.3,-13.0),(46.5,-3.9),(46.7,-8.2),
    (46.9,-4.7),(47.1,-10.8),(47.3,-2.6),(47.5,-6.9),(47.7,-12.3),(47.9,-4.1),(48.1,-8.8),(48.3,-3.2),(48.5,-10.1),(48.7,-5.8),
    (48.9,-7.4),(49.1,-12.7),(49.3,-3.6),(49.5,-9.6),(49.7,-5.3),(49.9,-2.9),
    (44.85,-6.8),(45.0,-12.4),(45.2,-4.2),(45.4,-9.9),(45.6,-13.3),(45.8,-6.0),(46.0,-3.1),(46.2,-10.5),(46.4,-7.3),(46.6,-12.1),
    (46.8,-2.9),(47.0,-6.1),(47.2,-8.6),(47.4,-4.5),(47.6,-10.0),(47.8,-13.2),(48.0,-5.4),(48.2,-11.4),(48.4,-7.0),(48.6,-2.7),
    (48.8,-12.0),(49.0,-9.0),(49.2,-5.0),(49.4,-11.3),(49.6,-7.7),
    (50.1,-4.4),(50.2,-14.8),(50.4,-8.3),(50.5,-21.6),(50.7,-3.1),(50.8,-11.9),(51.0,-26.4),(51.1,-6.2),(51.3,-17.5),(51.4,-2.7),
    (51.6,-9.8),(51.7,-23.9),(51.9,-5.5),(52.0,-13.6),(52.2,-19.2),(52.3,-3.8),(52.5,-7.6),(52.6,-28.7),(52.8,-11.1),(52.9,-4.9),
    (53.1,-16.3),(53.2,-2.9),(53.4,-22.4),(53.5,-8.9),(53.7,-6.0),(53.8,-13.0),(54.0,-25.5),(54.1,-3.5),(54.3,-18.6),(54.4,-10.4),
    (54.6,-4.2),(54.7,-15.7),(54.9,-7.2),(55.0,-29.3),(55.2,-12.5),(55.3,-2.6),(55.5,-20.5),(55.6,-9.1),(55.8,-5.2),(55.9,-24.2),
    (56.1,-14.1),(56.2,-3.3),(56.4,-8.0),(56.5,-17.9),(56.7,-11.5),(56.8,-27.1),(57.0,-4.7),(57.1,-21.0),(57.3,-6.8),(57.4,-13.8),
    (57.6,-2.8),(57.7,-16.6),(57.9,-9.5),(58.0,-23.3),(58.2,-5.8),(58.3,-12.0),(58.5,-3.9),(58.6,-19.8),(58.8,-7.9),(58.9,-26.0),
    (59.1,-10.7),(59.2,-4.5),(59.4,-15.1),(59.5,-2.7),(59.7,-22.0),(59.8,-8.6),(60.0,-13.3),(60.1,-5.6),(60.3,-18.2),(60.4,-28.1),
    (60.6,-3.6),(60.7,-11.3),(60.9,-7.1),(61.0,-24.8),(61.2,-16.0),(61.3,-4.1),(61.5,-9.4),(61.6,-20.1),(61.8,-2.9),(61.9,-12.8),
    (62.1,-6.5),(62.2,-27.6),(62.4,-14.5),(62.5,-3.4),(62.7,-8.4),(62.8,-21.8),(63.0,-5.0),(63.1,-17.0),(63.3,-10.2),(63.4,-25.1),
    (63.6,-3.0),(63.7,-13.9),(63.9,-7.5),(64.0,-19.4),(64.2,-4.8),(64.3,-11.8),(64.5,-23.0),(64.6,-6.1),(64.8,-15.9),(64.9,-2.6),
    (65.1,-9.0),(65.2,-29.0),(65.4,-5.4),(65.5,-18.9),(65.7,-12.2),(65.8,-3.7),(66.0,-22.7),(66.1,-7.8),(66.3,-14.3),(66.4,-4.3),
    (66.6,-10.5),(66.7,-26.7),(66.9,-6.7),(67.0,-17.3),
    (50.6,-6.7),(51.8,-12.2),(53.0,-9.7),(54.2,-6.6),(55.4,-15.3),(56.6,-5.9),(57.8,-11.0),(59.0,-3.2),(60.2,-9.9),(61.4,-6.9),
    (62.6,-11.6),(63.8,-3.9),(65.0,-13.5),(66.2,-5.7),(50.9,-18.0),(52.7,-24.6),(54.5,-21.3),(56.3,-26.3),(58.1,-16.9),(59.9,-20.7),
    (61.7,-15.4),(63.5,-20.9),(65.3,-16.2),(66.5,-19.6),(52.4,-4.0),(55.7,-3.0),(58.4,-6.3),(62.0,-3.2),(64.7,-8.2),(60.5,-6.0),
    (50.05,-12.6),(50.3,-3.5),(50.35,-19.4),(50.55,-27.3),(50.75,-9.0),(50.95,-4.6),(51.05,-14.3),(51.25,-22.8),(51.35,-7.8),(51.55,-3.0),
    (51.65,-16.9),(51.85,-29.0),(51.95,-10.5),(52.1,-6.9),(52.25,-25.0),(52.45,-14.0),(52.55,-2.7),(52.65,-9.2),(52.85,-20.1),(53.05,-5.6),
    (53.15,-12.4),(53.3,-27.8),(53.45,-4.4),(53.6,-17.2),(53.75,-8.3),(53.9,-21.5),(54.05,-3.1),(54.15,-11.7),(54.35,-14.8),(54.55,-28.6),
    (54.65,-5.0),(54.8,-9.8),(54.95,-19.0),(55.1,-3.7),(55.25,-23.5),(55.45,-7.0),(55.55,-12.9),(55.65,-26.7),(55.85,-16.1),(56.0,-2.9),
    (56.05,-9.7),(56.25,-20.6),(56.35,-6.4),(56.45,-13.2),(56.55,-29.4),(56.75,-3.9),(56.9,-17.4),(57.05,-8.6),(57.2,-24.5),(57.35,-12.2),
    (57.5,-4.5),(57.55,-19.9),(57.75,-6.3),(57.85,-27.0),(58.05,-10.3),(58.15,-3.3),(58.25,-14.7),(58.45,-21.2),(58.55,-8.9),(58.75,-4.7),
    (58.85,-17.6),(59.05,-25.3),(59.15,-6.7),(59.3,-12.7),(59.45,-2.9),(59.6,-18.5),(59.75,-9.3),(59.85,-28.9),(60.05,-4.2),(60.15,-15.8),
    (60.25,-7.9),(60.35,-22.8),(60.55,-11.7),(60.65,-3.1),(60.8,-19.4),(60.95,-5.5),(61.05,-13.9),(61.15,-26.6),(61.25,-8.1),(61.45,-3.6),
    (61.55,-17.2),(61.65,-10.6),(61.85,-23.7),(61.95,-5.8),(62.05,-14.9),(62.15,-2.6),(62.3,-9.6),(62.45,-20.3),(62.55,-6.9),(62.65,-29.2),
    (62.75,-12.5),(62.9,-4.3),(63.05,-18.1),(63.2,-7.2),(63.25,-24.2),(63.35,-3.5),(63.45,-13.1),(63.55,-9.4),(63.65,-27.9),(63.75,-5.4),
    (63.85,-16.7),(64.05,-11.0),(64.1,-3.0),(64.25,-21.4),(64.35,-6.8),(64.4,-14.6),(64.55,-26.0),(64.75,-4.9),(64.85,-10.4),(64.95,-18.6),
    (65.05,-3.4),(65.15,-24.9),(65.35,-8.0),(65.45,-13.7),(65.6,-5.9),(65.65,-20.4),(65.75,-2.8),(65.85,-10.1),(65.95,-16.7),(66.05,-28.4),
    (66.15,-4.6),(66.25,-12.8),(66.35,-8.9),(66.45,-23.6),(66.55,-3.3),(66.65,-15.0),(66.75,-6.0),(66.85,-20.8),(66.95,-11.2),(67.05,-2.9),
    (50.15,-6.0),(50.45,-10.9),(50.85,-7.3),(51.2,-5.0),(51.5,-11.4),(51.9,-8.0),(52.15,-4.1),(52.35,-12.8),(52.75,-6.5),(53.25,-8.0),
    (53.55,-3.9),(53.95,-9.1),(54.25,-4.8),(54.6,-13.1),(54.85,-3.0),(55.15,-10.3),(55.5,-6.1),(55.95,-11.1),(56.15,-7.4),(56.7,-4.8),
    (56.95,-10.8),(57.25,-3.6),(57.65,-13.4),(58.05,-2.6),(58.35,-10.0),(58.65,-5.1),(58.95,-12.4),(59.25,-8.2),(59.55,-4.9),(59.95,-6.9),
    (60.45,-13.6),(60.75,-4.8),(61.1,-10.8),(61.35,-7.6),(61.75,-4.0),(62.25,-12.0),(62.85,-7.7),(63.15,-2.7),(63.5,-11.9),(63.95,-5.1),
    (64.3,-9.0),(64.65,-3.8),(65.25,-6.7),(65.55,-9.7),(65.9,-4.1),(66.35,-2.7),(66.6,-8.1),(66.9,-4.0),(50.25,-24.4),(50.65,-16.1),
    (51.45,-20.0),(52.05,-28.1),(52.95,-17.9),(53.65,-25.9),(54.45,-22.3),(55.35,-18.2),(56.85,-22.4),(57.95,-19.0),(58.95,-22.0),(59.65,-25.7),
    (60.85,-27.6),(61.95,-19.8),(62.95,-22.0),(63.95,-29.5),(64.45,-17.3),(65.45,-28.0),(66.05,-18.3),(66.95,-25.9),(64.85,-22.8),(62.35,-25.4),
]
photons_right = [
    (70.5,-3.3),(70.6,-9.7),(70.8,-16.2),(70.9,-5.1),(71.1,-22.5),(71.2,-12.0),(71.4,-2.8),(71.5,-7.4),(71.7,-18.8),(71.8,-4.6),
    (72.0,-13.7),(72.1,-24.3),(72.3,-8.5),(72.4,-3.6),(72.6,-11.1),(72.7,-20.0),(72.9,-6.0),(73.0,-15.4),(73.2,-2.7),(73.3,-9.2),
    (73.5,-23.1),(73.6,-5.4),(73.8,-14.6),(73.9,-7.9),(74.1,-19.3),(74.2,-3.9),(74.4,-11.9),(74.5,-25.0),(74.7,-6.7),(74.8,-16.8),
    (75.0,-4.3),(75.1,-10.3),(75.3,-21.4),(75.4,-2.9),(75.6,-8.1),(75.7,-13.2),(75.9,-17.7),(76.0,-5.7),(76.2,-23.8),(76.3,-9.9),
    (76.5,-3.4),(76.6,-14.9),(76.8,-7.0),(76.9,-20.6),(77.1,-4.8),(77.2,-12.4),(77.4,-2.6),(77.5,-18.1),(77.7,-8.8),(77.8,-24.7),
    (78.0,-6.3),(78.1,-15.8),(78.3,-3.8),(78.4,-10.9),(78.6,-21.9),(78.7,-5.3),(78.9,-13.5),(79.0,-8.4),(79.2,-19.6),(79.3,-3.1),
    (79.5,-11.5),(79.6,-6.6),(79.8,-16.5),(79.9,-23.4),(80.1,-4.5),(80.2,-9.5),(80.4,-14.0),(80.5,-2.8),(80.7,-20.3),(80.8,-7.2),
    (81.0,-12.7),(81.1,-5.0),(81.3,-17.4),(81.4,-24.0),(81.6,-3.5),(81.7,-10.0),(81.9,-6.9),(82.0,-15.1),(82.2,-21.1),(82.3,-4.0),
    (82.5,-8.7),(82.6,-13.0),(82.8,-2.7),(82.9,-18.5),(83.1,-6.1),(83.2,-11.3),(83.4,-22.8),(83.5,-4.7),(83.7,-9.0),(83.8,-16.0),
    (84.0,-3.2),(84.1,-7.7),(84.3,-14.3),(84.4,-19.9),(84.6,-5.5),(84.7,-25.3),(84.9,-10.6),(85.0,-3.7),(85.2,-12.9),(85.3,-6.4),
    (85.5,-17.1),(85.6,-8.2),(85.8,-23.6),(85.9,-4.2),(86.1,-11.7),(86.2,-2.9),(86.4,-15.5),(86.5,-7.3),(86.7,-20.8),(86.8,-5.8),
    (87.0,-9.8),(87.1,-13.8),(87.8,-3.4),(87.9,-18.3),(88.1,-6.8),(88.2,-10.4),(88.4,-22.2),(88.5,-4.9),(88.7,-14.7),(88.8,-8.0),
    (89.0,-2.6),(89.1,-16.9),(89.3,-11.0),(89.4,-5.2),(89.6,-24.5),(89.7,-7.6),(89.9,-13.4),(90.0,-3.9),(90.2,-19.0),(90.3,-9.3),
    (90.5,-6.2),(90.6,-15.2),(90.8,-21.7),(90.9,-4.4),(91.1,-12.1),(91.2,-2.8),(91.4,-8.9),(91.5,-17.9),(91.7,-5.9),(91.8,-10.8),
    (92.0,-23.2),(92.1,-3.3),(92.3,-14.2),(92.4,-7.1),(92.6,-19.7),(92.7,-4.6),(92.9,-12.6),(93.0,-9.6),(93.2,-2.7),(93.3,-16.4),
    (93.5,-6.5),(93.6,-21.3),(93.8,-11.4),(93.9,-4.1),(94.1,-8.3),(94.2,-24.9),(94.4,-13.9),(94.5,-3.6),(94.7,-17.6),(94.8,-6.0),
    (95.0,-10.1),(95.1,-20.4),(95.3,-4.8),(95.4,-14.4),(96.0,-3.0),(96.1,-8.6),(96.3,-12.3),(96.4,-18.7),(96.6,-5.6),(96.7,-22.6),
    (96.9,-9.4),(97.0,-2.9),(97.2,-15.6),(97.3,-7.5),(97.5,-11.8),(97.6,-4.3),(97.8,-19.2),(97.9,-6.7),(98.1,-13.1),(98.2,-3.5),
    (98.4,-23.9),(98.5,-9.1),(98.7,-16.1),(98.8,-5.1),(99.0,-10.9),(99.1,-2.6),(99.3,-20.2),(99.4,-7.8),(99.6,-14.8),(99.7,-4.0),
    (99.9,-12.5),(100.0,-8.0),(100.2,-17.2),(100.3,-3.8),
    (70.7,-6.4),(72.2,-4.9),(73.7,-10.8),(75.2,-6.9),(76.7,-11.3),(78.2,-8.2),(79.7,-4.1),(81.2,-8.5),(82.7,-5.4),(84.2,-11.8),
    (85.7,-5.0),(87.2,-7.2),(88.9,-12.2),(90.4,-5.7),(92.2,-9.9),(93.7,-6.8),(95.2,-8.0),(96.8,-4.5),(98.3,-7.0),(99.8,-6.2),
    (71.3,-10.5),(74.0,-16.4),(76.4,-18.0),(79.1,-13.9),(81.8,-19.0),(84.8,-16.6),(87.5,-12.0),(90.1,-14.6),(93.1,-18.9),(95.6,-11.1),
    (98.6,-19.8),(100.1,-13.3),(77.0,-3.0),(83.0,-3.1),(89.2,-3.2),(94.9,-2.8),(97.4,-3.1),
    (70.45,-7.8),(70.55,-13.1),(70.65,-20.4),(70.75,-3.9),(70.85,-10.7),(70.95,-24.1),(71.05,-6.2),(71.15,-17.0),(71.25,-4.2),(71.35,-14.4),
    (71.45,-21.6),(71.55,-9.6),(71.65,-3.0),(71.75,-12.8),(71.85,-24.8),(71.95,-7.0),(72.05,-18.2),(72.15,-5.2),(72.25,-15.9),(72.35,-10.0),
    (72.45,-22.1),(72.55,-3.3),(72.65,-13.4),(72.75,-7.5),(72.85,-17.6),(72.95,-4.5),(73.05,-24.4),(73.15,-11.3),(73.25,-6.4),(73.35,-19.9),
    (73.45,-3.5),(73.55,-12.1),(73.65,-8.7),(73.75,-21.0),(73.85,-5.0),(73.95,-16.1),(74.05,-9.0),(74.15,-2.8),(74.25,-13.9),(74.35,-22.9),
    (74.45,-6.0),(74.55,-18.4),(74.65,-10.8),(74.75,-3.7),(74.85,-24.0),(74.95,-8.3),(75.05,-14.8),(75.15,-5.5),(75.25,-19.0),(75.35,-11.7),
    (75.45,-4.0),(75.55,-23.2),(75.65,-7.1),(75.75,-15.8),(75.85,-2.9),(75.95,-12.0),(76.05,-20.1),(76.15,-6.9),(76.25,-13.6),(76.35,-4.7),
    (76.45,-24.6),(76.55,-9.2),(76.65,-17.3),(76.75,-3.2),(76.85,-11.9),(76.95,-6.6),(77.05,-21.3),(77.15,-8.0),(77.25,-15.3),(77.35,-4.4),
    (77.45,-10.5),(77.55,-22.9),(77.65,-5.8),(77.75,-13.4),(77.85,-18.9),(77.95,-3.0),(78.05,-9.8),(78.15,-24.3),(78.25,-6.0),(78.35,-16.2),
    (78.45,-12.6),(78.55,-4.2),(78.65,-19.0),(78.75,-8.5),(78.85,-2.7),(78.95,-22.4),(79.05,-10.8),(79.15,-5.4),(79.25,-14.4),(79.35,-7.3),
    (79.45,-20.9),(79.55,-3.9),(79.65,-12.3),(79.75,-24.9),(79.85,-8.9),(79.95,-15.4),(80.05,-5.9),(80.15,-19.4),(80.25,-3.3),(80.35,-11.2),
    (80.45,-7.6),(80.55,-23.4),(80.65,-13.7),(80.75,-4.9),(80.85,-17.1),(80.95,-9.6),(81.05,-3.0),(81.15,-21.4),(81.25,-6.5),(81.35,-14.9),
    (81.45,-10.1),(81.55,-24.4),(81.65,-4.3),(81.75,-16.8),(81.85,-8.1),(81.95,-12.0),(82.05,-3.7),(82.15,-22.2),(82.25,-7.4),(82.35,-17.9),
    (82.45,-5.1),(82.55,-11.6),(82.65,-20.0),(82.75,-3.1),(82.85,-9.1),(82.95,-14.7),(83.05,-24.7),(83.15,-4.6),(83.25,-12.5),(83.35,-7.9),
    (83.45,-19.1),(83.55,-2.9),(83.65,-15.4),(83.75,-10.4),(83.85,-22.0),(83.95,-5.7),(84.05,-13.1),(84.15,-3.5),(84.25,-8.6),(84.35,-17.8),
    (84.45,-11.2),(84.55,-23.8),(84.65,-4.0),(84.75,-7.0),(84.85,-20.9),(84.95,-13.9),(85.05,-6.2),(85.15,-16.3),(85.25,-2.8),(85.35,-10.9),
    (85.45,-22.5),(85.55,-5.0),(85.65,-14.2),(85.75,-8.8),(85.85,-19.3),(85.95,-3.2),(86.05,-12.4),(86.15,-24.1),(86.25,-6.8),(86.35,-15.0),
    (86.45,-4.1),(86.55,-10.2),(86.65,-21.9),(86.75,-7.9),(86.85,-13.3),(86.95,-3.6),(87.05,-17.5),(87.15,-5.3),(87.85,-9.2),(87.95,-22.7),
    (88.05,-4.3),(88.15,-14.0),(88.25,-7.7),(88.35,-18.0),(88.45,-2.9),(88.55,-11.6),(88.65,-24.2),(88.75,-5.9),(88.85,-16.0),(88.95,-9.9),
    (89.05,-20.4),(89.15,-3.8),(89.25,-13.8),(89.35,-7.0),(89.45,-17.3),(89.55,-4.8),(89.65,-11.9),(89.75,-22.6),(89.85,-8.3),(89.95,-2.7),
    (90.05,-15.7),(90.15,-6.4),(90.25,-24.5),(90.35,-12.7),(90.45,-3.4),(90.55,-9.0),(90.65,-19.8),(90.75,-5.3),(90.85,-14.9),(90.95,-10.3),
    (91.05,-21.8),(91.15,-4.0),(91.25,-16.6),(91.35,-7.6),(91.45,-12.6),(91.55,-3.0),(91.65,-23.5),(91.75,-9.5),(91.85,-6.1),(91.95,-18.2),
    (92.05,-13.3),(92.15,-4.5),(92.25,-20.6),(92.35,-10.5),(92.45,-2.8),(92.55,-15.1),(92.65,-7.8),(92.75,-24.3),(92.85,-5.0),(92.95,-17.0),
    (93.05,-11.1),(93.15,-3.7),(93.25,-21.0),(93.35,-8.4),(93.45,-13.8),(93.55,-4.9),(93.65,-18.6),(93.75,-9.8),(93.85,-23.0),(93.95,-6.3),
    (94.05,-15.2),(94.15,-3.1),(94.25,-11.8),(94.35,-19.5),(94.45,-7.2),(94.55,-24.7),(94.65,-4.6),(94.75,-13.5),(94.85,-9.3),(94.95,-16.8),
    (95.05,-5.6),(95.15,-22.2),(95.25,-2.9),(95.35,-11.0),(95.45,-17.9),(95.95,-7.1),(96.05,-14.1),(96.15,-4.2),(96.25,-21.3),(96.35,-9.7),
    (96.45,-6.2),(96.55,-15.9),(96.65,-3.3),(96.75,-12.0),(96.85,-24.0),(96.95,-7.7),(97.05,-18.4),(97.15,-5.1),(97.25,-10.4),(97.35,-20.8),
    (97.45,-3.8),(97.55,-14.5),(97.65,-8.5),(97.75,-23.1),(97.85,-5.7),(97.95,-12.9),(98.05,-17.0),(98.15,-3.0),(98.25,-10.0),(98.35,-21.6),
    (98.45,-6.6),(98.55,-14.0),(98.65,-4.4),(98.75,-24.4),(98.85,-8.8),(98.95,-16.7),(99.05,-5.4),(99.15,-12.2),(99.25,-3.5),(99.35,-19.0),
    (99.45,-9.9),(99.55,-22.9),(99.65,-6.0),(99.75,-13.6),(99.85,-3.2),(99.95,-17.6),(100.05,-10.9),(100.15,-5.2),(100.25,-21.0),(100.35,-7.5),
]
photons_above = [
    (1.2,2.6),(3.7,4.5),(4.2,3.3),(8.6,3.8),(9.8,2.3),(12.0,2.8),(14.1,2.4),(17.3,2.9),(20.6,4.1),(23.4,2.7),
    (26.0,3.2),(29.5,2.4),(33.4,4.7),(36.1,2.7),(38.8,3.6),(41.2,2.3),(46.0,2.9),(49.0,4.3),(52.5,2.5),(55.8,3.4),
    (58.7,2.6),(62.3,4.0),(64.9,2.8),(71.8,2.7),(75.0,4.4),(77.6,2.4),(81.5,3.1),(85.1,4.8),(88.0,2.6),(91.9,3.7),
    (94.4,2.5),(97.9,4.2),(99.6,2.8),(30.5,4.9),(60.1,3.3),
]
photons_zoom = [
    (10.10,-2.80),(10.07,-4.23),(10.14,-3.70),(10.02,-4.32),(10.08,-5.21),(10.16,-6.46),(10.10,-7.09),(10.20,-8.96),(10.31,-9.68),(10.35,-6.46),
    (10.49,-7.09),(10.51,-9.14),(10.68,-8.16),(10.78,-4.68),(10.99,-7.00),(11.05,-9.41),(11.13,-2.54),(11.17,-9.77),(11.25,-3.07),(11.36,-7.09),
    (11.48,-2.98),(11.48,-6.20),(11.49,-7.00),(11.58,-4.05),(11.75,-4.68),(11.79,-7.45),(11.81,-6.11),(11.96,-9.14),(12.00,-4.68),(12.14,-8.16),
    (12.18,-3.25),(12.24,-3.79),(12.24,-9.77),(12.41,-3.88),(12.41,-8.34),(12.55,-4.05),(12.62,-3.79),(12.62,-8.07),(12.70,-2.71),(12.84,-4.77),
    (12.92,-3.52),(13.03,-3.79),(13.09,-7.63),(13.13,-4.68),(13.17,-8.34),(13.23,-5.39),(13.23,-8.96),(13.38,-8.79),(13.44,-4.59),(13.46,-6.20),
    (13.48,-3.61),(13.56,-6.82),(13.69,-2.89),(13.81,-5.13),(13.92,-3.52),(13.96,-9.59),(14.04,-4.32),(14.06,-7.98),(14.12,-4.41),(14.27,-5.39),
    (14.35,-7.71),(14.37,-5.39),(14.39,-6.55),(14.43,-3.25),(14.49,-2.80),(14.55,-6.11),(14.64,-9.41),(14.66,-2.54),(14.76,-4.50),(14.84,-7.54),
    (14.88,-5.57),(14.93,-9.23),(14.97,-3.25),(10.45,-2.30),(11.90,-2.40),(12.50,-2.60),(13.30,-2.20),(14.20,-2.50),(10.60,-3.30),(11.00,-3.60),
    (12.90,-6.00),(13.70,-5.00),(11.60,-8.60),(12.80,-9.30),(10.30,-5.60),(14.70,-6.80),(11.63,2.32),
]

ZOOM_BOX = dict(x0=10, x1=15, y0=-10, y1=3)
LEGEND_NAMES = ["ATL03 Photons", "Surface Peak", "0.5 m Below Surface Peak", "1 m Below Surface Peak", "2 m Below Surface Peak"]

# ---------------- build tables ----------------
track_km = np.round(np.arange(len(surface_peak_m)) * STEP_KM, 2)
inset_km = np.round(INSET_START_KM + np.arange(len(inset_surface_m)) * INSET_STEP_KM, 3)


def splice(main_vals, inset_vals):
    mv = np.array(main_vals, dtype=float)
    n = min(len(mv), len(track_km))
    km, mv = track_km[:n], mv[:n]
    left = km < INSET_START_KM - 1e-9
    right = km > inset_km[-1] + 1e-9
    iv = np.array(inset_vals, dtype=float)
    x = np.concatenate([km[left], inset_km[:len(iv)], km[right]])
    y = np.concatenate([mv[left], iv, mv[right]])
    return x, y


all_photons = photons_start + photons_left + photons_middle + photons_right + photons_above + photons_zoom
ph_x = [p[0] for p in all_photons]
ph_y = [p[1] for p in all_photons]
zx = [p[0] for p in photons_zoom]
zy = [p[1] for p in photons_zoom]

FONT = "DejaVu Sans"
C_SURF = "#0000ff"
C_HALF = "#e4602e"
C_ONE = "#ffa07a"
C_TWO = "#ffab19"
LINE_COLORS = [C_SURF, C_HALF, C_ONE, C_TWO]


def ph_marker():
    return dict(color="black", size=4.5, opacity=0.22, line=dict(width=0))


fig = go.Figure()

# ---- main axes ----
fig.add_trace(go.Scatter(x=ph_x, y=ph_y, mode="markers", marker=ph_marker(), showlegend=False, hoverinfo="skip"))
sx, sy = splice(surface_peak_m, inset_surface_m)
fig.add_trace(go.Scatter(x=sx, y=sy, mode="lines", line=dict(color="#000000", width=15), opacity=0.12,
                         showlegend=False, hoverinfo="skip"))
fig.add_trace(go.Scatter(x=sx, y=sy, mode="lines", line=dict(color="#000000", width=9), opacity=0.75,
                         showlegend=False, hoverinfo="skip"))
for vals, ivals, col in [(surface_peak_m, inset_surface_m, C_SURF), (below_half_m, inset_half_m, C_HALF),
                         (below_one_m, inset_one_m, C_ONE), (below_two_m, inset_two_m, C_TWO)]:
    lx, ly = splice(vals, ivals)
    fig.add_trace(go.Scatter(x=lx, y=ly, mode="lines", line=dict(color=col, width=1), showlegend=False))

# ---- inset axes ----
fig.add_trace(go.Scatter(x=zx, y=zy, mode="markers", showlegend=False, hoverinfo="skip",
                         marker=ph_marker(), xaxis="x2", yaxis="y2"))
fig.add_trace(go.Scatter(x=inset_km, y=inset_surface_m, mode="lines", showlegend=False, hoverinfo="skip",
                         line=dict(color="#000000", width=20), opacity=0.1, xaxis="x2", yaxis="y2"))
fig.add_trace(go.Scatter(x=inset_km, y=inset_surface_m, mode="lines", showlegend=False, hoverinfo="skip",
                         line=dict(color="#000000", width=12), opacity=0.78, xaxis="x2", yaxis="y2"))
for ivals, col in [(inset_surface_m, C_SURF), (inset_half_m, C_HALF), (inset_one_m, C_ONE), (inset_two_m, C_TWO)]:
    fig.add_trace(go.Scatter(x=inset_km, y=ivals, mode="lines", showlegend=False,
                             line=dict(color=col, width=1.3), xaxis="x2", yaxis="y2"))

# ---- legend entries (drawn only in the legend) ----
fig.add_trace(go.Scatter(x=[None], y=[None], mode="markers", name=LEGEND_NAMES[0], marker=ph_marker()))
for name, col in zip(LEGEND_NAMES[1:], LINE_COLORS):
    fig.add_trace(go.Scatter(x=[None], y=[None], mode="lines", name=name, line=dict(color=col, width=1.3)))

W, H = 1079, 567
ML, MR, MT, MB = 85, 0, 15, 54
pw, ph = W - ML - MR, H - MT - MB


def px_x(p):
    return (p - ML) / pw


def px_y(p):
    return (H - MB - p) / ph


def axis_style(size):
    return dict(showgrid=False, zeroline=False, showline=True, linecolor="#222", linewidth=1,
                ticks="outside", ticklen=5, tickwidth=1, tickcolor="#222",
                tickfont=dict(family=FONT, size=size, color="black"))


fig.update_layout(
    width=W, height=H,
    margin=dict(l=ML, r=MR, t=MT, b=MB),
    paper_bgcolor="white", plot_bgcolor="white",
    font=dict(family=FONT, size=20, color="black"),
    xaxis=dict(domain=[0, 1], range=[-4.93, 104.06], tickvals=[0, 20, 40, 60, 80, 100], mirror=True,
               ticklabelstandoff=-3, **axis_style(19.5)),
    yaxis=dict(domain=[0, 1], range=[-40, 5], dtick=5, mirror=False, **axis_style(20)),
    xaxis2=dict(domain=[px_x(182), px_x(586)], range=[10, 15], dtick=1, anchor="y2", mirror=True, **axis_style(19.5)),
    yaxis2=dict(domain=[px_y(463.3), px_y(221.7)], range=[-10, 2.9],
                tickvals=[-10, -7.5, -5, -2.5, 0, 2.5], tickformat=".1f", anchor="x2", mirror=True, **axis_style(19.5)),
    showlegend=True,
    legend=dict(x=px_x(1089), y=px_y(500), xanchor="right", yanchor="bottom",
                bgcolor="rgba(255,255,255,0.8)", bordercolor="#cccccc", borderwidth=1,
                font=dict(family=FONT, size=20, color="black"), itemwidth=50),
    shapes=[
        dict(type="rect", xref="x2 domain", yref="y2 domain", x0=0, x1=1, y0=0, y1=1,
             fillcolor="white", line=dict(width=0), layer="below"),
        dict(type="rect", xref="x", yref="y", layer="above",
             line=dict(color="red", width=1, dash="4px,2px"), fillcolor="rgba(0,0,0,0)", **ZOOM_BOX),
    ],
    annotations=[
        dict(text="Zoomed in", xref="paper", yref="paper", x=px_x(384), y=px_y(205),
             xanchor="center", yanchor="middle", showarrow=False, font=dict(family=FONT, size=24.5, color="black")),
        dict(text="Distance From Start of Track (km)", xref="paper", yref="paper", x=0.5, y=0,
             xanchor="center", yanchor="middle", yshift=-43, showarrow=False,
             font=dict(family=FONT, size=19.5, color="black")),
        dict(text="Photon Height (m)", xref="paper", yref="paper", x=0, y=0.5, textangle=-90,
             xanchor="center", yanchor="middle", xshift=-64, showarrow=False,
             font=dict(family=FONT, size=20, color="black")),
    ],
)

fig.write_html("out.html")
